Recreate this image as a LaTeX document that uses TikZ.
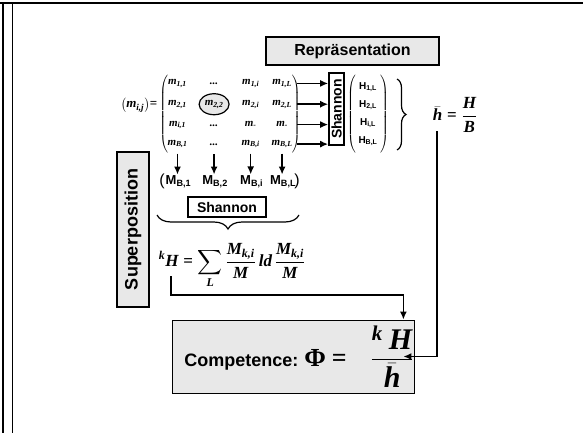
\documentclass[tikz,border=0pt]{standalone}
\usepackage{amsmath}
\usepackage{fontspec}
\setmainfont{Liberation Sans}
\newfontfamily\tms{Liberation Serif}
\usetikzlibrary{positioning, matrix, shapes.geometric, arrows.meta, decorations.pathreplacing}
\tikzstyle{Arrow} = [
%Create custom arrow style:
line width=1.6pt,
-{Latex[length=8pt, width=7pt]}
]
\definecolor{boxgray}{gray}{0.91}
\newcommand{\mv}[1]{\text{\tms\bfseries\itshape #1}}

\begin{document}
\begin{tikzpicture}[x=1pt, y=-1pt,
				titlebox/.style = {rectangle, draw, line width=1.2pt, fill=boxgray, font=\bfseries\fontsize{16}{18}\selectfont, inner sep=0pt},
				shannonbox/.style = {rectangle, draw, line width=1.6pt, fill=white, font=\bfseries\fontsize{14}{16}\selectfont, inner sep=0pt},
				brace/.style = {decorate, line width=1.2pt},
				every left delimiter/.style = {xshift=2pt},
				every right delimiter/.style = {xshift=-2pt},
			]
			\useasboundingbox (0,0) rectangle (583,433);

			% frame of the page
			\draw[line width=2pt] (0,3) -- (583,3);
			\draw[line width=2pt] (3,3) -- (3,433);
			\draw[line width=1pt] (12,3) -- (12,433);

			\node[titlebox, minimum width=173, minimum height=28](Rep) at (352.5,51){Repräsentation};
			\node[titlebox, font=\bfseries\fontsize{18}{20}\selectfont, minimum width=32, minimum height=155](Sup) at (133,229.5){\rotatebox{90}{Superposition}};

			\node[font=\fontsize{13}{15}\selectfont, inner sep=0pt](Mij) at (139,105){$\left(\mv{m}_{\mv{i,j}}\right)\!\text{\tms\bfseries =}$};

			\matrix (mm) [matrix of math nodes, left delimiter=(, right delimiter=), inner sep=0pt, row sep=0pt, column sep=11pt,
				nodes={minimum width=20pt, minimum height=18.5pt, inner sep=0pt, font=\fontsize{11}{13}\selectfont}] at (230,114) {
				\mv{m}_{\mv{1,1}} & \mv{...} & \mv{m}_{\mv{1,i}} & \mv{m}_{\mv{1,L}} \\
				\mv{m}_{\mv{2,1}} & |[ellipse, draw, line width=1.2pt, fill=boxgray, minimum width=30pt, minimum height=21pt]| \mv{m}_{\mv{2,2}} & \mv{m}_{\mv{2,i}} & \mv{m}_{\mv{2,L}} \\
				\mv{m}_{\mv{i,1}} & \mv{...} & \mv{m}_{\mv{-}} & \mv{m}_{\mv{-}} \\
				\mv{m}_{\mv{B,1}} & \mv{...} & \mv{m}_{\mv{B,i}} & \mv{m}_{\mv{B,L}} \\
			};

			\node[shannonbox, minimum width=15, minimum height=72](ShanV) at (336.5,109){\rotatebox{90}{Shannon}};

			\matrix (hv) [matrix of nodes, left delimiter=(, right delimiter=), row sep=0pt,
				nodes={minimum height=18pt, inner sep=0pt, font=\bfseries\fontsize{10}{12}\selectfont}] at (368,114) {
				H$_{\text{\bfseries 1,L}}$ \\
				H$_{\text{\bfseries 2,L}}$ \\
				H$_{\text{\bfseries i,L}}$ \\
				H$_{\text{\bfseries B,L}}$ \\
			};

			\coordinate(BrT) at (397,79);
			\coordinate(BrB) at (397,150);
			\draw[brace, decoration={brace, amplitude=9pt}](BrT) -- (BrB);

			\node[font=\fontsize{17}{20}\selectfont](hbar) at (455,115){$\bar{\mv{h}} \mathrel{\text{\tms\bfseries =}} \dfrac{\mv{H}}{\mv{B}}$};

			% column sums below the matrix
			\foreach \i/\s in {1/1, 2/2, 3/i, 4/L}{
				\node[font=\bfseries\fontsize{13}{15}\selectfont, inner sep=1pt, xshift=1pt](MB\i) at (mm-4-\i |- 0,182){M$_{\text{\bfseries B,\s}}$};
				\draw[Arrow](mm-4-\i.south) -- (mm-4-\i.south |- MB\i.north);
			}
			\node[font=\fontsize{16}{18}\selectfont](MBl) at (162,181){(};
			\node[font=\fontsize{16}{18}\selectfont](MBr) at (297,181){)};

			\foreach \r in {1,...,4}
				\draw[Arrow]([xshift=4pt]mm.east |- mm-\r-4) -- (ShanV.west |- mm-\r-4);

			\coordinate(UbR) at (299,215);
			\coordinate(UbL) at (157,215);
			\draw[brace, decoration={brace, amplitude=14pt}](UbR) -- (UbL);
			\node[shannonbox, minimum width=78, minimum height=20](ShanH) at (227,207){Shannon};

			\node[font=\fontsize{17}{20}\selectfont](KH) at (232,266){$\displaystyle {}^{\mv{k}}\mv{H} \mathrel{\text{\tms\bfseries =}} \sum_{\mv{L}} \frac{\mv{M}_{\mv{k,i}}}{\mv{M}}\,\mv{ld}\,\frac{\mv{M}_{\mv{k,i}}}{\mv{M}}$};

			\node[titlebox, line width=0.8pt, font=\bfseries\fontsize{18}{20}\selectfont, minimum width=242, minimum height=73, text width=241pt, align=right](Comp) at (293,356.5){Competence:\hspace{6pt}{\fontsize{26}{30}\selectfont$\text{\tms\bfseries Φ =}\hspace{24pt}\text{\fontsize{30}{34}\selectfont$\dfrac{{}^{\mv{k}}\hspace{6pt}\mv{H}}{\bar{\mv{h}}}$}$}};

			\coordinate(KHfoot) at (171,276);
			\coordinate(hfoot) at (437,131);
			\draw[Arrow](KHfoot) -- (KHfoot |- 0,295) -| ([xshift=-11pt]Comp.north east);
			\draw[Arrow](hfoot) |- ([xshift=-11pt]Comp.east);

		\end{tikzpicture}
\end{document}
